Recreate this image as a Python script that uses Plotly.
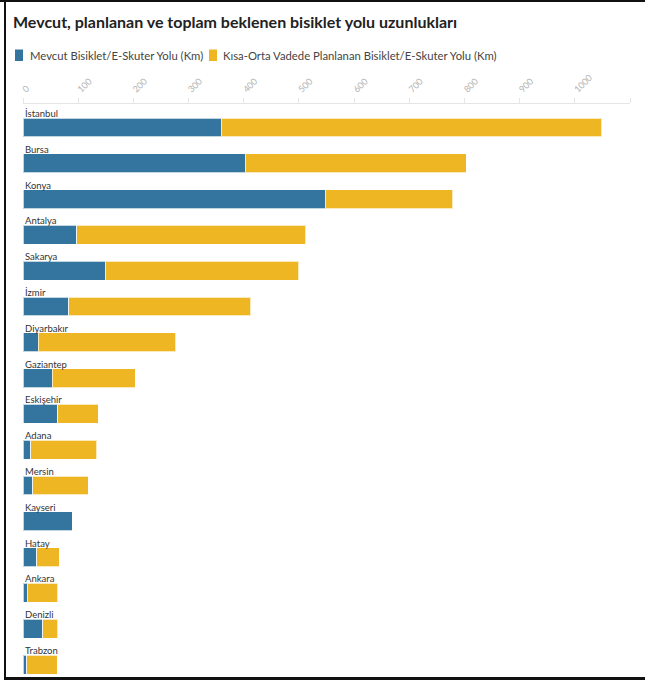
import plotly.graph_objects as go

# Şehirler ve bisiklet/e-skuter yolu uzunlukları (km)
cities = ["İstanbul", "Bursa", "Konya", "Antalya", "Sakarya", "İzmir", "Diyarbakır",
          "Gaziantep", "Eskişehir", "Adana", "Mersin", "Kayseri", "Hatay", "Ankara",
          "Denizli", "Trabzon"]
existing_km = [359, 403, 548, 97, 149, 83, 28, 53, 63, 14, 18, 89, 25, 8, 36, 7]
planned_km = [690, 400, 231, 415, 351, 330, 249, 150, 73, 120, 100, 0, 41, 55, 27, 55]
tick_values = [0, 100, 200, 300, 400, 500, 600, 700, 800, 900, 1000, 1100]

series_names = ["Mevcut Bisiklet/E-Skuter Yolu (Km)",
                "Kısa-Orta Vadede Planlanan Bisiklet/E-Skuter Yolu (Km)"]
BLUE = "#33759f"
YELLOW = "#efb623"
FONT = "Lato"

W, H = 645, 680
ML, MR, MT, MB = 23, 15, 104, 6
PW, PH = W - ML - MR, H - MT - MB


def px_x(px):
    return (px - ML) / PW


def px_y(py):
    return 1 - (py - MT) / PH


fig = go.Figure()
for name, vals, col in [(series_names[0], existing_km, BLUE),
                        (series_names[1], planned_km, YELLOW)]:
    fig.add_trace(go.Bar(
        y=cities, x=vals, orientation="h", name=name,
        marker=dict(color=col, line=dict(color="rgba(255,255,255,0.7)", width=1)),
        width=0.53, showlegend=False,
        hovertemplate="%{y}: %{x} km<extra></extra>",
    ))

# Şehir adları çubukların üstünde
annotations = []
for c in cities:
    annotations.append(dict(
        x=0, y=c, xref="x", yref="y", text=c, showarrow=False,
        xanchor="left", yanchor="middle", yshift=14,
        font=dict(family=FONT, size=9.5, color="#333333"),
    ))

# Lejant
legend_items = [(15, 23, 28, series_names[0], BLUE), (209, 217, 221, series_names[1], YELLOW)]
shapes = []
for x0, x1, tx, label, col in legend_items:
    shapes.append(dict(type="rect", xref="paper", yref="paper",
                       x0=px_x(x0), x1=px_x(x1), y0=px_y(61), y1=px_y(49.5),
                       fillcolor=col, line=dict(width=0), layer="above"))
    annotations.append(dict(
        x=px_x(tx), y=px_y(55.5), xref="paper", yref="paper", text=label,
        showarrow=False, xanchor="left", yanchor="middle",
        font=dict(family=FONT, size=11.3, color="#444444"),
    ))

# Çerçeve
frame = dict(type="rect", xref="paper", yref="paper", line=dict(width=0),
             fillcolor="#111111", layer="above")
shapes.append({**frame, "x0": px_x(0), "x1": px_x(W), "y0": px_y(0), "y1": px_y(2)})
shapes.append({**frame, "x0": px_x(4), "x1": px_x(6), "y0": px_y(0), "y1": px_y(H)})
shapes.append({**frame, "x0": px_x(4), "x1": px_x(W), "y0": px_y(677), "y1": px_y(H)})

fig.update_layout(
    width=W, height=H,
    margin=dict(l=ML, r=MR, t=MT, b=MB),
    paper_bgcolor="white", plot_bgcolor="white",
    barmode="stack", bargap=0.47,
    title=dict(text="<b>Mevcut, planlanan ve toplam beklenen bisiklet yolu uzunlukları</b>",
               x=13 / W, xanchor="left", xref="container",
               y=1 - 22 / H, yanchor="middle", yref="container",
               font=dict(family=FONT, size=16, color="#222222")),
    xaxis=dict(side="top", range=[0, 1100], tickvals=tick_values,
               showgrid=False, zeroline=False,
               showline=True, linecolor="#e6e6e6", linewidth=1,
               ticks="outside", ticklen=5, tickcolor="#e6e6e6",
               tickangle=-45,
               tickfont=dict(family=FONT, size=9, color="#b3b3b3"),
               fixedrange=True),
    yaxis=dict(autorange=False, range=[15.265, -0.656], showticklabels=False,
               showgrid=False, zeroline=False, showline=False, ticks="",
               categoryorder="array", categoryarray=cities, fixedrange=True),
    annotations=annotations,
    shapes=shapes,
    showlegend=False,
)

fig.write_html("out.html")
